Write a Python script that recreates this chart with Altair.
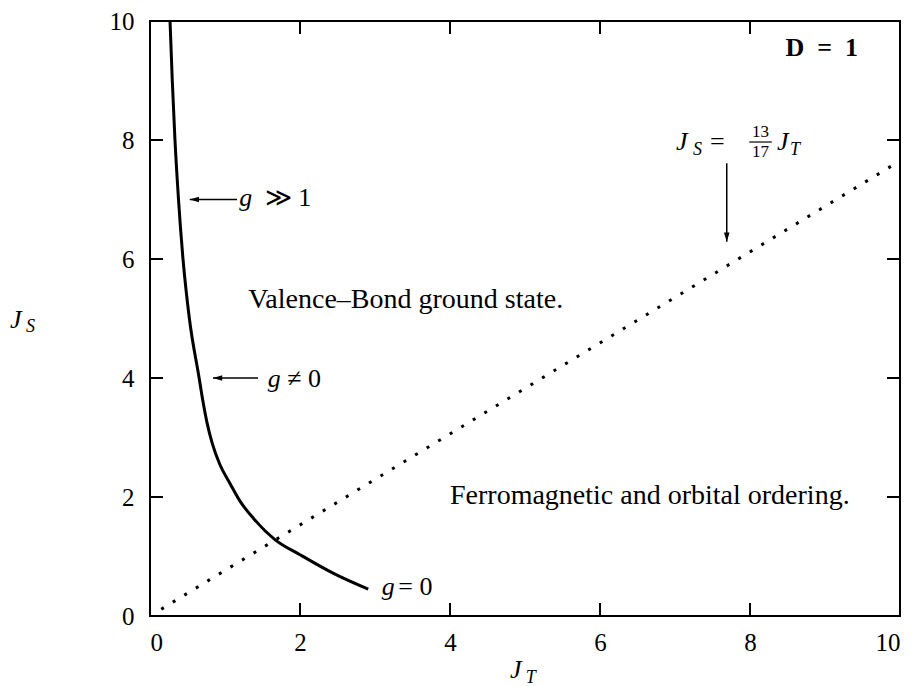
import altair as alt
import pandas as pd

# ---------------- data ----------------
curve_jt = [0.267, 0.297, 0.333, 0.38, 0.44, 0.525, 0.655, 0.70, 0.76, 0.83, 0.93, 1.07, 1.20, 1.38, 1.67, 2.00, 2.44, 2.91]
curve_js = [10.0, 9.0, 8.0, 7.0, 6.0, 5.0, 4.0, 3.65, 3.25, 2.9, 2.55, 2.22, 1.93, 1.64, 1.28, 1.03, 0.72, 0.45]

dot_jt = [0.15, 10.0]
dot_js = [0.115, 7.65]

x_ticks = [0, 2, 4, 6, 8, 10]
y_ticks = [0, 2, 4, 6, 8, 10]

# horizontal arrows (tail x, head x, y)
harrow_tail = [1.16, 1.44]
harrow_head = [0.53, 0.84]
harrow_y = [7.0, 4.0]
# vertical arrow (x, tail y, head y)
varrow_x = [7.69]
varrow_tail = [7.61]
varrow_head = [6.29]

# ---------------- layout ----------------
W, H = 750, 595
FONT = "'Liberation Serif', 'DejaVu Serif', serif"
FS = 25
BIG = 28
TICK = 13

xs = alt.Scale(domain=[0, 10], nice=False, zero=False)
ys = alt.Scale(domain=[0, 10], nice=False, zero=False)
xaxis = alt.Axis(values=x_ticks, title=None, grid=False, ticks=False, domain=False,
                 labelFont=FONT, labelFontSize=FS, labelColor="black", labelPadding=14,
                 format="d")
yaxis = alt.Axis(values=y_ticks, title=None, grid=False, ticks=False, domain=False,
                 labelFont=FONT, labelFontSize=FS, labelColor="black", labelPadding=16,
                 format="d")

def X(f="x"):
    return alt.X(f + ":Q", scale=xs, axis=xaxis)

def Y(f="y"):
    return alt.Y(f + ":Q", scale=ys, axis=yaxis)

curve = alt.Chart(pd.DataFrame({"x": curve_jt, "y": curve_js})).mark_line(
    color="black", strokeWidth=3, interpolate="monotone").encode(x=X(), y=Y())

dotted = alt.Chart(pd.DataFrame({"x": dot_jt, "y": dot_js})).mark_line(
    color="black", strokeWidth=3, strokeDash=[3, 10.5], strokeCap="butt").encode(x=X(), y=Y())

xt = pd.DataFrame({"x": x_ticks})
yt = pd.DataFrame({"y": y_ticks})
tick_b = alt.Chart(xt).mark_rule(color="black", strokeWidth=2).encode(
    x=X(), y=alt.value(H), y2=alt.value(H - TICK))
tick_t = alt.Chart(xt).mark_rule(color="black", strokeWidth=2).encode(
    x=X(), y=alt.value(0), y2=alt.value(TICK))
tick_l = alt.Chart(yt).mark_rule(color="black", strokeWidth=2).encode(
    y=Y(), x=alt.value(0), x2=alt.value(TICK))
tick_r = alt.Chart(yt).mark_rule(color="black", strokeWidth=2).encode(
    y=Y(), x=alt.value(W), x2=alt.value(W - TICK))

ha = pd.DataFrame({"x": harrow_tail, "x2": harrow_head, "y": harrow_y})
harrow = alt.Chart(ha).mark_rule(color="black", strokeWidth=1.5).encode(
    x=X(), x2="x2:Q", y=Y())
harrow_heads = alt.Chart(ha).mark_point(
    shape="M0,0L2.3,-0.7L2.3,0.7Z", filled=True, color="black", size=64, opacity=1,
    strokeWidth=0).encode(x=X("x2"), y=Y())

va = pd.DataFrame({"x": varrow_x, "y": varrow_tail, "y2": varrow_head})
varrow = alt.Chart(va).mark_rule(color="black", strokeWidth=1.5).encode(
    x=X(), y=Y(), y2="y2:Q")
varrow_heads = alt.Chart(va).mark_point(
    shape="M0,0L-0.7,-2.3L0.7,-2.3Z", filled=True, color="black", size=64, opacity=1,
    strokeWidth=0).encode(x=X(), y=Y("y2"))

# fraction bar
frac = alt.Chart(pd.DataFrame({"x": [7.99], "x2": [8.29], "y": [7.966]})).mark_rule(
    color="black", strokeWidth=1.2).encode(x=X(), x2="x2:Q", y=Y())


def txt(x, y, text, size=FS, style="normal", weight="normal", align="left"):
    return alt.Chart(pd.DataFrame({"x": [x], "y": [y], "t": [text]})).mark_text(
        font=FONT, fontSize=size, fontStyle=style, fontWeight=weight, align=align,
        baseline="alphabetic", color="black").encode(x=X(), y=Y(), text="t:N")

labels = [
    txt(1.31, 5.18, "Valence–Bond ground state.", size=BIG),
    txt(4.0, 1.88, "Ferromagnetic and orbital ordering.", size=BIG),
    txt(9.44, 9.41, "D\u2002=\u20021", size=26, weight="bold", align="right"),
    txt(1.19, 6.89, "g", size=26, style="italic"),
    txt(1.53, 6.89, "≫ 1", size=26),
    txt(1.57, 3.85, "g", size=26, style="italic"),
    txt(1.83, 3.85, "≠ 0", size=26),
    txt(3.09, 0.35, "g", size=26, style="italic"),
    txt(3.31, 0.35, "= 0", size=26),
    # equation J_S = 13/17 J_T
    txt(7.013, 7.832, "J", size=26, style="italic"),
    txt(7.24, 7.748, "S", size=18, style="italic"),
    txt(7.467, 7.832, "=", size=26),
    txt(8.14, 8.05, "13", size=17, align="center"),
    txt(8.14, 7.71, "17", size=17, align="center"),
    txt(8.36, 7.832, "J", size=26, style="italic"),
    txt(8.533, 7.748, "T", size=18, style="italic"),
    # axis titles
    txt(4.8, -1.04, "J", size=26, style="italic"),
    txt(5.01, -1.12, "T", size=18, style="italic"),
    txt(-1.867, 4.84, "J", size=26, style="italic"),
    txt(-1.653, 4.77, "S", size=18, style="italic"),
]

chart = alt.layer(
    dotted, curve, tick_b, tick_t, tick_l, tick_r,
    harrow, harrow_heads, varrow, varrow_heads, frac, *labels
).properties(
    width=W, height=H,
    autosize=alt.AutoSizeParams(type="none"),
    padding={"left": 150, "top": 21, "right": 13, "bottom": 70},
    background="white",
).configure_view(stroke="black", strokeWidth=2)

chart.save("out.html", embed_options={"renderer": "svg", "actions": False})
